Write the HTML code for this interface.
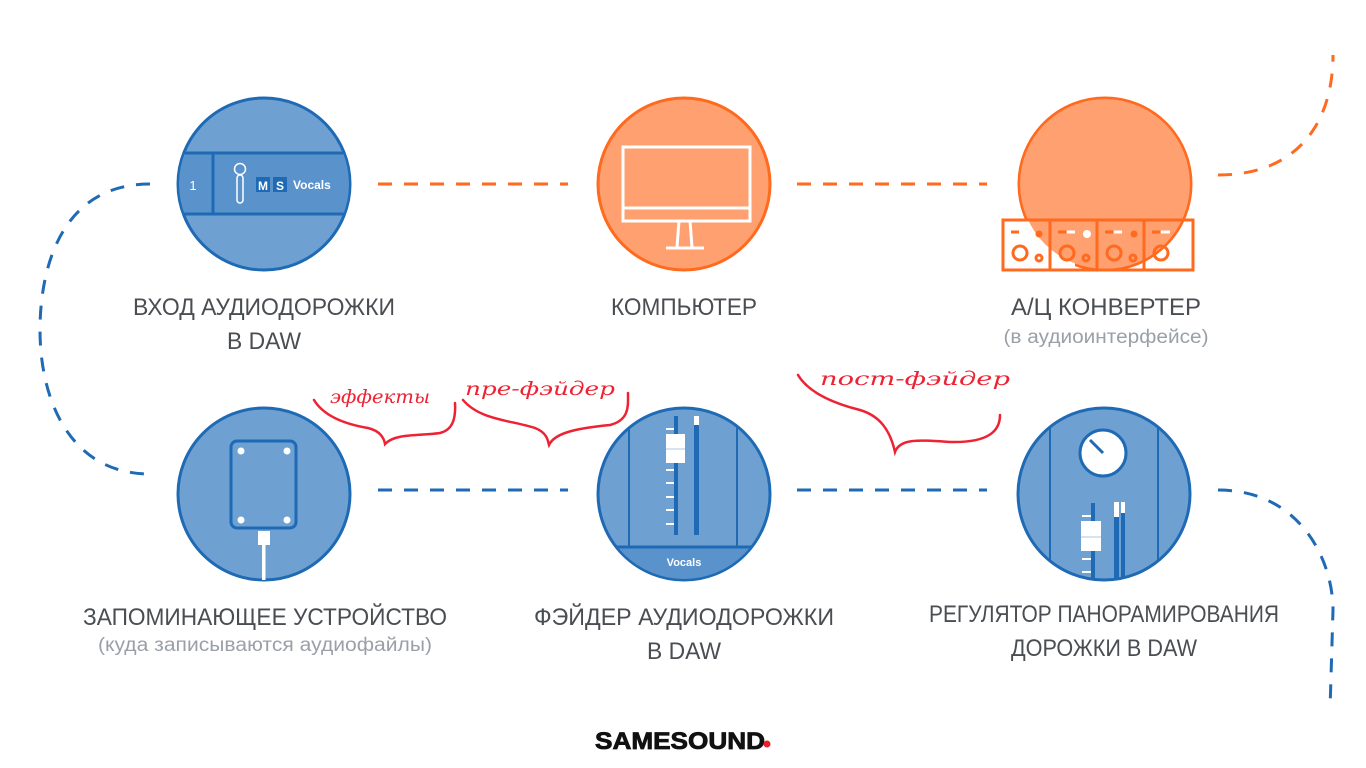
<!DOCTYPE html>
<html><head><meta charset="utf-8"><style>
html,body{margin:0;padding:0;background:#fff}
svg{display:block}
.lb{font-family:"Liberation Sans",sans-serif;fill:#4a4d52;font-size:24px;text-anchor:middle}
.sb{font-family:"Liberation Sans",sans-serif;fill:#9aa0a8;font-size:19px;text-anchor:middle}
.hw{font-family:"DejaVu Serif",serif;font-style:italic;fill:#ee2233;font-size:19px}
</style></head><body>
<svg width="1366" height="768" viewBox="0 0 1366 768" xmlns="http://www.w3.org/2000/svg">
<g fill="none" stroke-width="3" stroke-dasharray="14 12">
<line x1="378" y1="184" x2="568" y2="184" stroke="#ff6a1e"/>
<line x1="797" y1="184" x2="987" y2="184" stroke="#ff6a1e"/>
<line x1="378" y1="490" x2="568" y2="490" stroke="#1e6ab4"/>
<line x1="797" y1="490" x2="987" y2="490" stroke="#1e6ab4"/>
<path d="M150 184 C 60 184 40 270 40 330 C 40 400 70 474 150 474" stroke="#1e6ab4"/>
<path d="M1218 175 C 1300 175 1333 120 1333 55" stroke="#ff6a1e"/>
<path d="M1218 490 C 1300 490 1333 560 1333 610 L1330 710" stroke="#1e6ab4"/>
</g>
<defs>
<clipPath id="c1"><circle cx="264" cy="184" r="85"/></clipPath>
<clipPath id="c5"><circle cx="684" cy="494" r="85"/></clipPath>
<clipPath id="c6"><circle cx="1104" cy="494" r="85"/></clipPath>
<clipPath id="c3"><circle cx="1105" cy="184" r="85"/></clipPath>
</defs>
<circle cx="264" cy="184" r="86" fill="#6fa0d2" stroke="#1e6ab4" stroke-width="3"/>
<g clip-path="url(#c1)">
<rect x="170" y="153" width="200" height="61" fill="#5a92cc" stroke="#1e6ab4" stroke-width="3"/>
<line x1="213" y1="153" x2="213" y2="214" stroke="#1e6ab4" stroke-width="3"/>
</g>
<text x="193" y="190" font-family="Liberation Sans" font-size="13" fill="#fff" text-anchor="middle">1</text>
<circle cx="240" cy="169" r="5.5" fill="none" stroke="#fff" stroke-width="1.5"/>
<rect x="237" y="175" width="6" height="28" rx="3" fill="none" stroke="#fff" stroke-width="1.5"/>
<rect x="256" y="177" width="14" height="15" fill="#1e6ab4"/><rect x="273" y="177" width="14" height="15" fill="#1e6ab4"/>
<text x="263" y="190" font-family="Liberation Sans" font-weight="bold" font-size="12" fill="#fff" text-anchor="middle">M</text>
<text x="280" y="190" font-family="Liberation Sans" font-weight="bold" font-size="12" fill="#fff" text-anchor="middle">S</text>
<text x="293" y="189" font-family="Liberation Sans" font-weight="bold" font-size="12" fill="#fff">Vocals</text>
<circle cx="684" cy="184" r="86" fill="#ffa070" stroke="#ff6a1e" stroke-width="3"/>
<rect x="601" y="221" width="166" height="27" fill="#ffab80" clip-path="url(#c3)"/>
<rect x="623" y="147" width="127" height="74" fill="none" stroke="#fff" stroke-width="3"/>
<line x1="623" y1="208" x2="750" y2="208" stroke="#fff" stroke-width="3"/>
<path d="M679 221 L677 247 M690 221 L692 247 M666 248 L704 248" stroke="#fff" stroke-width="3" fill="none"/>
<circle cx="1105" cy="184" r="86" fill="#ffa070" stroke="#ff6a1e" stroke-width="3"/>
<rect x="1003" y="220" width="47" height="50" fill="#fff"/>
<rect x="1050" y="220" width="25" height="50" fill="#fff"/>
<circle cx="1105" cy="184" r="85" fill="#ffa070" clip-path="url(#c3)"/>
<g fill="none" stroke="#ff6a1e" stroke-width="3">
<rect x="1003" y="220" width="190" height="50"/>
<line x1="1050" y1="220" x2="1050" y2="270"/><line x1="1097" y1="220" x2="1097" y2="270"/><line x1="1144" y1="220" x2="1144" y2="270"/>
<circle cx="1020" cy="253" r="7"/><circle cx="1039" cy="258" r="3"/>
<circle cx="1067" cy="253" r="7"/><circle cx="1086" cy="258" r="3"/>
<circle cx="1114" cy="253" r="7"/><circle cx="1133" cy="258" r="3"/>
<circle cx="1161" cy="253" r="7"/>
<line x1="1011" y1="232" x2="1019" y2="232"/><line x1="1058" y1="232" x2="1066" y2="232"/><line x1="1105" y1="232" x2="1113" y2="232"/><line x1="1152" y1="232" x2="1160" y2="232"/>
</g>
<circle cx="1039" cy="234" r="3.5" fill="#ff6a1e"/><circle cx="1087" cy="234" r="4" fill="#fff"/><circle cx="1134" cy="234" r="3.5" fill="#ff6a1e"/>
<line x1="1067" y1="232" x2="1075" y2="232" stroke="#fff" stroke-width="3"/><line x1="1114" y1="232" x2="1122" y2="232" stroke="#fff" stroke-width="3"/><line x1="1161" y1="232" x2="1170" y2="232" stroke="#fff" stroke-width="3"/>
<circle cx="264" cy="494" r="86" fill="#6fa0d2" stroke="#1e6ab4" stroke-width="3"/>
<rect x="231" y="441" width="65" height="87" rx="6" fill="none" stroke="#1e6ab4" stroke-width="3"/>
<g fill="#fff"><circle cx="241" cy="451" r="3.5"/><circle cx="287" cy="451" r="3.5"/><circle cx="241" cy="520" r="3.5"/><circle cx="287" cy="520" r="3.5"/></g>
<rect x="258" y="531" width="12" height="14" fill="#fff"/><rect x="262" y="545" width="3.5" height="35" fill="#fff"/>
<circle cx="684" cy="494" r="86" fill="#6fa0d2" stroke="#1e6ab4" stroke-width="3"/>
<g clip-path="url(#c5)">
<line x1="629" y1="400" x2="629" y2="590" stroke="#1e6ab4" stroke-width="2"/>
<line x1="737" y1="400" x2="737" y2="590" stroke="#1e6ab4" stroke-width="2"/>
<rect x="590" y="547" width="200" height="40" fill="#5a92cc" stroke="#1e6ab4" stroke-width="3"/>
</g>
<text x="684" y="566" font-family="Liberation Sans" font-weight="bold" font-size="11" fill="#fff" text-anchor="middle">Vocals</text>
<rect x="674" y="416" width="4" height="119" fill="#1e6ab4"/>
<rect x="694" y="416" width="5" height="119" fill="#1e6ab4"/>
<rect x="694" y="416" width="5" height="9" fill="#fff"/>
<g fill="#fff"><rect x="666" y="428" width="8" height="2"/><rect x="666" y="469" width="8" height="2"/><rect x="666" y="482" width="8" height="2"/><rect x="666" y="496" width="8" height="2"/><rect x="666" y="509" width="8" height="2"/><rect x="666" y="523" width="8" height="2"/></g>
<rect x="666" y="434" width="19" height="29" fill="#fff"/><rect x="666" y="448" width="19" height="2" fill="#d6e4f2"/>
<circle cx="1104" cy="494" r="86" fill="#6fa0d2" stroke="#1e6ab4" stroke-width="3"/>
<g clip-path="url(#c6)">
<line x1="1050" y1="400" x2="1050" y2="590" stroke="#1e6ab4" stroke-width="2"/>
<line x1="1158" y1="400" x2="1158" y2="590" stroke="#1e6ab4" stroke-width="2"/>
<rect x="1091" y="503" width="4" height="80" fill="#1e6ab4"/>
<rect x="1114" y="502" width="5" height="80" fill="#1e6ab4"/><rect x="1121" y="502" width="4" height="80" fill="#1e6ab4"/>
<rect x="1114" y="502" width="5" height="15" fill="#fff"/><rect x="1121" y="502" width="4" height="11" fill="#fff"/>
<g fill="#fff"><rect x="1082" y="515" width="9" height="2"/><rect x="1082" y="558" width="9" height="2"/><rect x="1082" y="571" width="9" height="2"/></g>
<rect x="1081" y="521" width="20" height="30" fill="#fff"/><rect x="1081" y="536" width="20" height="2" fill="#d6e4f2"/>
</g>
<circle cx="1103" cy="453" r="23" fill="#fff" stroke="#1e6ab4" stroke-width="3"/>
<line x1="1103" y1="453" x2="1090" y2="440" stroke="#1e6ab4" stroke-width="3"/>
<g lengthAdjust="spacingAndGlyphs">
<text class="lb" x="264" y="315" textLength="262" lengthAdjust="spacingAndGlyphs">ВХОД АУДИОДОРОЖКИ</text>
<text class="lb" x="264" y="349" textLength="74" lengthAdjust="spacingAndGlyphs">В DAW</text>
<text class="lb" x="684" y="315" textLength="146" lengthAdjust="spacingAndGlyphs">КОМПЬЮТЕР</text>
<text class="lb" x="1106" y="315" textLength="190" lengthAdjust="spacingAndGlyphs">А/Ц КОНВЕРТЕР</text>
<text class="sb" x="1106" y="343" textLength="205" lengthAdjust="spacingAndGlyphs">(в аудиоинтерфейсе)</text>
<text class="lb" x="265" y="625" textLength="364" lengthAdjust="spacingAndGlyphs">ЗАПОМИНАЮЩЕЕ УСТРОЙСТВО</text>
<text class="sb" x="265" y="651" textLength="334" lengthAdjust="spacingAndGlyphs">(куда записываются аудиофайлы)</text>
<text class="lb" x="684" y="625" textLength="300" lengthAdjust="spacingAndGlyphs">ФЭЙДЕР АУДИОДОРОЖКИ</text>
<text class="lb" x="684" y="659" textLength="74" lengthAdjust="spacingAndGlyphs">В DAW</text>
<text class="lb" x="1104" y="622" textLength="350" lengthAdjust="spacingAndGlyphs">РЕГУЛЯТОР ПАНОРАМИРОВАНИЯ</text>
<text class="lb" x="1104" y="656" textLength="186" lengthAdjust="spacingAndGlyphs">ДОРОЖКИ В DAW</text>
</g>
<g fill="none" stroke="#ee2233" stroke-width="2.5" stroke-linecap="round">
<path d="M314 400 C 325 418 350 425 368 428 C 380 431 384 438 385 444 C 395 433 420 436 440 433 C 452 430 456 420 455 403"/>
<path d="M463 400 C 480 420 510 420 535 428 C 548 433 548 442 549 445 C 555 432 580 428 610 425 C 630 420 628 405 628 393"/>
<path d="M798 375 C 810 395 840 405 860 410 C 880 416 890 430 895 452 C 900 438 920 440 950 442 C 990 443 1000 430 1000 415"/>
</g>
<text class="hw" x="330" y="403" textLength="100" lengthAdjust="spacingAndGlyphs">эффекты</text>
<text class="hw" x="465" y="395" textLength="150" lengthAdjust="spacingAndGlyphs">пре-фэйдер</text>
<text class="hw" x="820" y="385" textLength="190" lengthAdjust="spacingAndGlyphs" font-size="21">пост-фэйдер</text>
<text x="680" y="749" font-family="Liberation Sans" font-weight="900" font-size="24" fill="#111" text-anchor="middle" textLength="170" lengthAdjust="spacingAndGlyphs" stroke="#111" stroke-width="0.8">SAMESOUND</text>
<circle cx="767" cy="744" r="3.5" fill="#e8202a"/>
</svg>
</body></html>
